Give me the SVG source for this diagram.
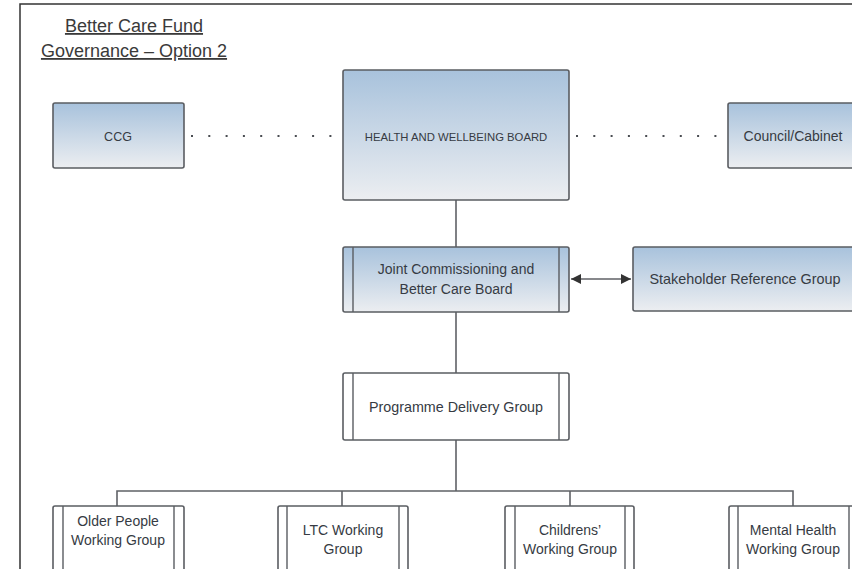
<svg xmlns="http://www.w3.org/2000/svg" width="852" height="569" viewBox="0 0 852 569">
<style>
.t{font-family:"Liberation Sans",Arial,sans-serif;fill:#363b43;text-anchor:middle}
.title{font-family:"Liberation Sans",Arial,sans-serif;fill:#3a3a3a;text-anchor:middle;font-size:18px;text-decoration:underline}
.blue{fill:url(#g);stroke:#5a5d62;stroke-width:1.6}
.white{fill:#fff;stroke:#5a5d62;stroke-width:1.6}
.inner{stroke:#5a5d62;stroke-width:1.4;fill:none}
.c{stroke:#5f6166;stroke-width:1.6;fill:none}
.dot{stroke:#4a4d52;stroke-width:2.2;fill:none;stroke-dasharray:2 15.3}
</style>
<defs>
<linearGradient id="g" x1="0" y1="0" x2="0" y2="1">
<stop offset="0" stop-color="#a8c2dc"/>
<stop offset="1" stop-color="#eceef1"/>
</linearGradient>
<marker id="ah" viewBox="0 0 10 10" refX="10" refY="5" markerWidth="11" markerHeight="10" markerUnits="userSpaceOnUse" orient="auto-start-reverse">
<path d="M0,0 L10,5 L0,10 z" fill="#333"/>
</marker>
</defs>
<rect width="852" height="569" fill="#fff"/>
<path d="M20,569 V4 H852" fill="none" stroke="#333" stroke-width="1.5"/>
<text class="title" x="134" y="32">Better Care Fund</text>
<text class="title" x="134" y="57">Governance – Option 2</text>

<g id="connectors">
<line class="dot" x1="191" y1="136" x2="343" y2="136"/>
<line class="dot" x1="576" y1="136" x2="728" y2="136"/>
<line class="c" x1="456" y1="200" x2="456" y2="247"/>
<line class="c" x1="456" y1="312" x2="456" y2="373"/>
<line class="c" x1="456" y1="440" x2="456" y2="491"/>
<line class="c" x1="571" y1="279" x2="631" y2="279" marker-start="url(#ah)" marker-end="url(#ah)"/>
<path class="c" d="M117,506 V491 H793 V506 M342,491 V506 M570,491 V506"/>
</g>

<g id="ccg">
<rect class="blue" x="53" y="103" width="131" height="65" rx="2"/>
<text class="t" x="118" y="141" font-size="12.5">CCG</text>
</g>
<g id="hwb">
<rect class="blue" x="343" y="70" width="226" height="130" rx="2"/>
<text class="t" x="456" y="141" font-size="11.3">HEALTH AND WELLBEING BOARD</text>
</g>
<g id="council">
<rect class="blue" x="728" y="103" width="131" height="65" rx="2"/>
<text class="t" x="793" y="141" font-size="14">Council/Cabinet</text>
</g>
<g id="jcb">
<rect class="blue" x="343" y="247" width="226" height="65" rx="2"/>
<path class="inner" d="M353,247 V312 M559,247 V312"/>
<text class="t" x="456" y="274" font-size="14">Joint Commissioning and</text>
<text class="t" x="456" y="294" font-size="14">Better Care Board</text>
</g>
<g id="stakeholder">
<rect class="blue" x="633" y="247" width="226" height="64" rx="2"/>
<text class="t" x="745" y="284" font-size="14.4">Stakeholder Reference Group</text>
</g>
<g id="pdg">
<rect class="white" x="343" y="373" width="226" height="67" rx="2"/>
<path class="inner" d="M353,373 V440 M559,373 V440"/>
<text class="t" x="456" y="412" font-size="14.3">Programme Delivery Group</text>
</g>
<g id="older">
<rect class="white" x="53" y="506" width="131" height="80" rx="2"/>
<path class="inner" d="M63,506 V569 M174,506 V569"/>
<text class="t" x="118" y="526" font-size="14">Older People</text>
<text class="t" x="118" y="545" font-size="14">Working Group</text>
</g>
<g id="ltc">
<rect class="white" x="278" y="506" width="130" height="80" rx="2"/>
<path class="inner" d="M287,506 V569 M399,506 V569"/>
<text class="t" x="343" y="535" font-size="14">LTC Working</text>
<text class="t" x="343" y="554" font-size="14">Group</text>
</g>
<g id="childrens">
<rect class="white" x="505" y="506" width="129" height="80" rx="2"/>
<path class="inner" d="M515,506 V569 M625,506 V569"/>
<text class="t" x="570" y="535" font-size="14">Childrens’</text>
<text class="t" x="570" y="554" font-size="14">Working Group</text>
</g>
<g id="mental">
<rect class="white" x="729" y="506" width="130" height="80" rx="2"/>
<path class="inner" d="M738,506 V569 M849,506 V569"/>
<text class="t" x="793" y="535" font-size="14">Mental Health</text>
<text class="t" x="793" y="554" font-size="14">Working Group</text>
</g>
</svg>
